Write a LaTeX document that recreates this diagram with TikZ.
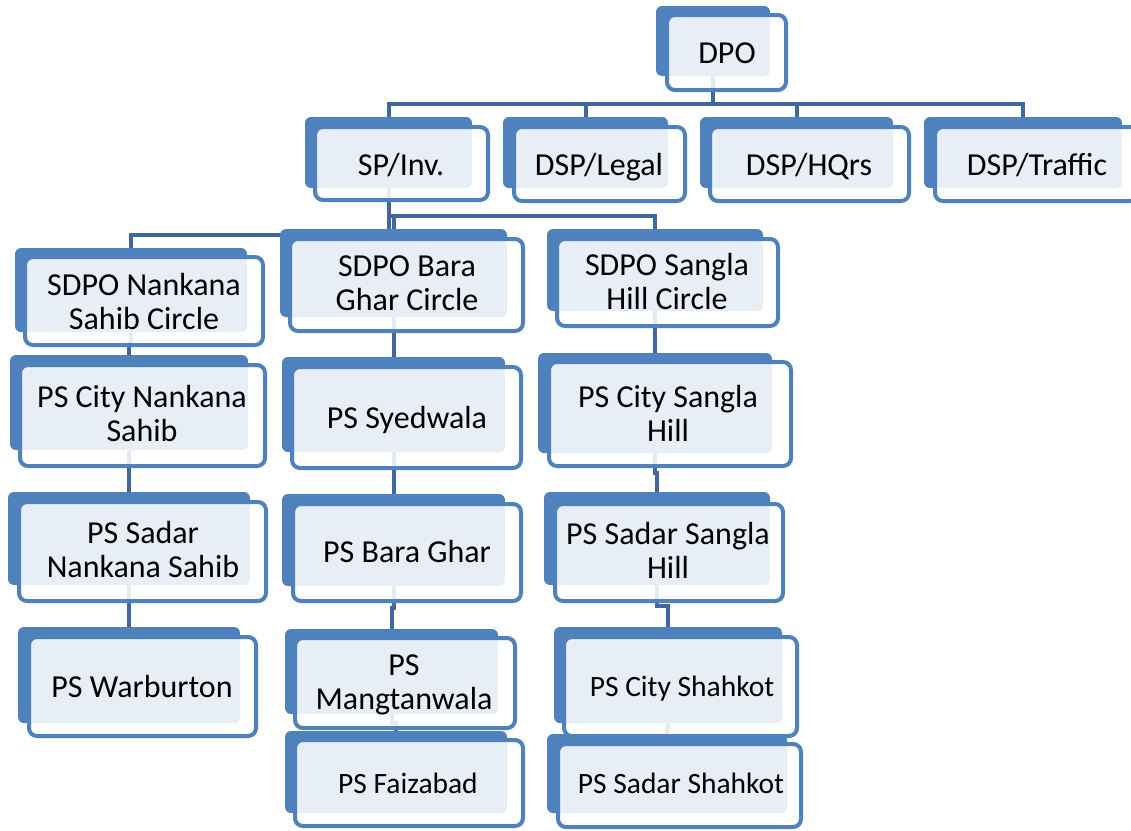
\documentclass[tikz,border=0pt]{standalone}
\usepackage{fontspec}
\setmainfont{Carlito}
\usetikzlibrary{backgrounds,calc}
\definecolor{boxblue}{HTML}{4F81BD}
\definecolor{connblue}{HTML}{41689C}
\tikzset{
  backbox/.style={fill=boxblue, rounded corners=6pt, inner sep=0pt, outer sep=0pt},
  frontbox/.style={draw=boxblue, line width=4pt, fill=white, fill opacity=0.87, rounded corners=8pt, inner sep=0pt, outer sep=0pt},
  lbl/.style={inner sep=0pt, align=center, text depth=0pt, font=\fontsize{32pt}{34pt}\selectfont},
  smalllbl/.style={lbl, font=\fontsize{29.5pt}{34pt}\selectfont},
  conn/.style={draw=connblue, line width=4pt},
}
% back box: name, x1, y1, x2, y2
\newcommand\orgback[5]{%
  \pgfmathsetmacro\obCX{(#2+#4)/2}\pgfmathsetmacro\obCY{(#3+#5)/2}%
  \pgfmathsetmacro\obW{#4-#2}\pgfmathsetmacro\obH{#5-#3}%
  \node[backbox, minimum width=\obW pt, minimum height=\obH pt] (#1) at (\obCX,\obCY) {};}
% front box (outer extents of the stroke): name, x1, y1, x2, y2
\newcommand\orgfront[5]{%
  \pgfmathsetmacro\obCX{(#2+#4)/2}\pgfmathsetmacro\obCY{(#3+#5)/2}%
  \pgfmathsetmacro\obW{#4-#2-4}\pgfmathsetmacro\obH{#5-#3-4}%
  \node[frontbox, minimum width=\obW pt, minimum height=\obH pt] (#1) at (\obCX,\obCY) {};}
\newcommand\vlink[2]{\draw[conn] (#1.south) |- ($(#1.south)!0.5!(#2.north)$) -| (#2.north);}
\begin{document}
\begin{tikzpicture}[x=1pt,y=-1pt]
\useasboundingbox (0,0) rectangle (1131,830);
\coordinate (topbar) at (0,104);
\coordinate (spbar) at (0,216);
\coordinate (nkbar) at (0,235);

% top level
\orgback{dpo}{656}{6}{770}{76}\orgfront{dpo-f}{665}{13}{788}{92}
\node[lbl] (dpo-t) at (727,53) {DPO};

\orgback{sp}{305}{117}{472}{188}\orgfront{sp-f}{313}{125}{490}{202}
\node[lbl] (sp-t) at (401,164) {SP/Inv.};
\orgback{legal}{503}{117}{668}{188}\orgfront{legal-f}{512}{125}{687}{203}
\node[lbl] (legal-t) at (599,164) {DSP/Legal};
\orgback{hq}{700}{117}{893}{188}\orgfront{hq-f}{708}{125}{911}{203}
\node[lbl] (hq-t) at (809,164) {DSP/HQrs};
\orgback{traffic}{924}{117}{1122}{188}\orgfront{traffic-f}{933}{125}{1140}{203}
\node[lbl] (traffic-t) at (1037,164) {DSP/Traffic};

% circles
\orgback{nankana}{15}{248}{247}{332}\orgfront{nankana-f}{23}{255}{265}{347}
\node[lbl] (nankana-t) at (144,301) {SDPO Nankana\\Sahib Circle};
\orgback{bara}{280}{229}{507}{317}\orgfront{bara-f}{288}{237}{525}{333}
\node[lbl] (bara-t) at (407,283) {SDPO Bara\\Ghar Circle};
\orgback{sangla}{547}{229}{763}{311}\orgfront{sangla-f}{555}{237}{780}{328}
\node[lbl] (sangla-t) at (667,281) {SDPO Sangla\\Hill Circle};

% Nankana column
\orgback{citynk}{10}{355}{248}{450}\orgfront{citynk-f}{18}{363}{267}{468}
\node[lbl] (citynk-t) at (142,413) {PS City Nankana\\Sahib};
\orgback{sadarnk}{8}{492}{250}{585}\orgfront{sadarnk-f}{17}{500}{268}{603}
\node[lbl] (sadarnk-t) at (143,549) {PS Sadar\\Nankana Sahib};
\orgback{warburton}{18}{627}{240}{723}\orgfront{warburton-f}{27}{635}{258}{738}
\node[lbl] (warburton-t) at (142,686) {PS Warburton};

% Bara Ghar column
\orgback{syedwala}{282}{357}{505}{452}\orgfront{syedwala-f}{290}{365}{523}{470}
\node[lbl] (syedwala-t) at (407,417) {PS Syedwala};
\orgback{baraghar}{282}{494}{505}{586}\orgfront{baraghar-f}{291}{502}{523}{603}
\node[lbl] (baraghar-t) at (407,551) {PS Bara Ghar};
\orgback{mangt}{285}{629}{498}{714}\orgfront{mangt-f}{293}{636}{517}{730}
\node[lbl] (mangt-t) at (404,682) {PS\\Mangtanwala};
\orgback{faizabad}{285}{731}{507}{813}\orgfront{faizabad-f}{293}{738}{525}{828}
\node[smalllbl] (faizabad-t) at (408,783) {PS Faizabad};

% Sangla column
\orgback{citysangla}{538}{353}{772}{453}\orgfront{citysangla-f}{547}{360}{793}{468}
\node[lbl] (citysangla-t) at (668,413) {PS City Sangla\\Hill};
\orgback{sadarsangla}{544}{492}{770}{585}\orgfront{sadarsangla-f}{553}{502}{785}{603}
\node[lbl] (sadarsangla-t) at (668,550) {PS Sadar Sangla\\Hill};
\orgback{cityshahkot}{554}{627}{782}{723}\orgfront{cityshahkot-f}{562}{635}{799}{738}
\node[smalllbl] (cityshahkot-t) at (682,686) {PS City Shahkot};
\orgback{sadarshahkot}{547}{734}{787}{813}\orgfront{sadarshahkot-f}{556}{742}{803}{829}
\node[smalllbl] (sadarshahkot-t) at (681,783) {PS Sadar Shahkot};

\begin{scope}[on background layer]
  \foreach \c in {sp,legal,hq,traffic}
    \draw[conn] (dpo.south) -- (dpo.south |- topbar) -| (\c.north);
  \draw[conn] (sp.south) -- (sp.south |- spbar) -| (bara.north);
  \draw[conn] (sp.south) -- (sp.south |- spbar) -| (sangla.north);
  \draw[conn] (sp.south) -- (sp.south |- nkbar) -| (nankana.north);
  \vlink{nankana}{citynk}
  \vlink{citynk}{sadarnk}
  \vlink{sadarnk}{warburton}
  \vlink{bara}{syedwala}
  \vlink{syedwala}{baraghar}
  \vlink{baraghar}{mangt}
  \vlink{mangt}{faizabad}
  \vlink{sangla}{citysangla}
  \vlink{citysangla}{sadarsangla}
  \vlink{sadarsangla}{cityshahkot}
  \vlink{cityshahkot}{sadarshahkot}
\end{scope}
\end{tikzpicture}
\end{document}
